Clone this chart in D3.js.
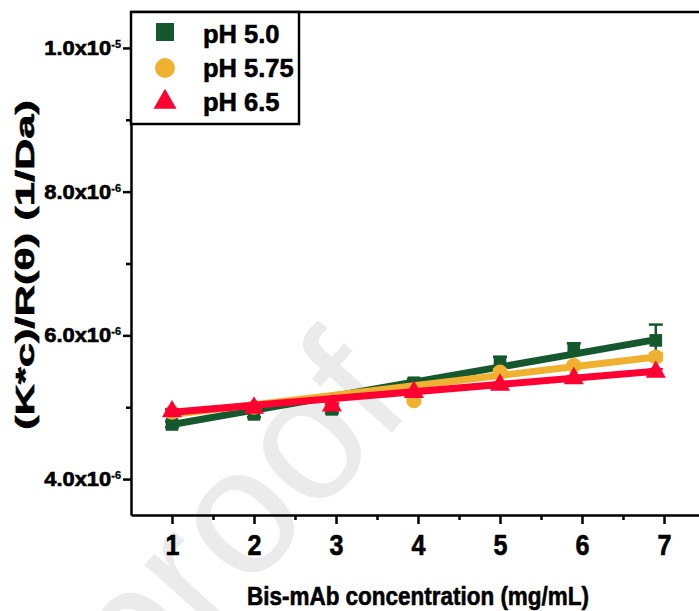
<!DOCTYPE html>
<html>
<head>
<meta charset="utf-8">
<script src="https://cdn.jsdelivr.net/npm/d3@7"></script>
<style>
body { margin: 0; background: #fff; }
text { font-family: "Liberation Sans", Arial, sans-serif; font-weight: bold; }
.lbl { stroke: #000; stroke-width: 0.6px; }
</style>
</head>
<body>
<svg id="chart" width="699" height="611"></svg>
<script>
// concentrations (mg/mL) and K*c/R(theta) values in units of 1e-6 1/Da
var conc = [1.0, 2.0, 2.95, 3.95, 5.0, 5.9, 6.9];
var ph50 = [4.76, 4.90, 4.97, 5.34, 5.63, 5.82, 5.93];
var ph50Err = [0.04, 0.04, 0.05, 0.05, 0.07, 0.07, 0.22];
var ph575 = [4.93, 5.00, 5.06, 5.09, 5.49, 5.58, 5.70];
var ph575Err = [0.03, 0.03, 0.03, 0.03, 0.04, 0.04, 0.05];
var ph65 = [4.94, 4.99, 5.02, 5.21, 5.31, 5.40, 5.49];
var ph65Err = [0.03, 0.03, 0.03, 0.03, 0.03, 0.03, 0.04];

// linear fit lines (start / end)
var fitX = [1.0, 6.9];
var fit50 = [4.76, 5.94];
var fit575 = [4.90, 5.70];
var fit65 = [4.93, 5.50];

var xTicks = [1, 2, 3, 4, 5, 6, 7];
var xMinor = [1.5, 2.5, 3.5, 4.5, 5.5, 6.5];
var yTicks = [4, 6, 8, 10];
var yMinor = [5, 7, 9];
var yTickBase = ["4.0x10", "6.0x10", "8.0x10", "1.0x10"];
var yTickExp = ["-6", "-6", "-6", "-5"];

var seriesNames = ["pH 5.0", "pH 5.75", "pH 6.5"];
var colors = ["#16582d", "#f0b030", "#ff0033"];

var svg = d3.select("#chart");

var x = d3.scaleLinear().domain([0.5, 7.5]).range([131, 705]);
var y = d3.scaleLinear().domain([3.5, 10.5]).range([515, 12]);

// watermark
svg.append("text")
	.attr("transform", "translate(140,712) rotate(-48)")
	.style("font-weight", "normal")
	.style("font-size", "180px")
	.attr("fill", "#ebebeb")
	.text("proof");

// frame top line
svg.append("line")
	.attr("x1", x(0.5)).attr("x2", 699)
	.attr("y1", y(10.5)).attr("y2", y(10.5))
	.attr("stroke", "#000").attr("stroke-width", 2.5);

// x axis
var gx = svg.append("g").attr("transform", "translate(0," + y(3.5) + ")");
gx.call(d3.axisBottom(x).tickValues(xTicks).tickSize(9).tickSizeOuter(0).tickFormat(d3.format("d")));
gx.append("g").call(d3.axisBottom(x).tickValues(xMinor).tickSize(5).tickFormat(""))
	.select(".domain").remove();
gx.selectAll(".domain").attr("stroke-width", 2.5);
gx.selectAll(".tick line").attr("stroke-width", 2.5);
gx.selectAll(".tick text")
	.attr("class", "lbl")
	.attr("y", 40).attr("dy", 0)
	.attr("fill", "#000")
	.style("font-size", "29px")
	.style("font-family", "'Liberation Sans', Arial, sans-serif")
	.attr("textLength", 14)
	.attr("lengthAdjust", "spacingAndGlyphs");

// y axis
var gy = svg.append("g").attr("transform", "translate(" + x(0.5) + ",0)");
gy.call(d3.axisLeft(y).tickValues(yTicks).tickSize(8).tickSizeOuter(0).tickFormat(""));
gy.append("g").call(d3.axisLeft(y).tickValues(yMinor).tickSize(5).tickFormat(""))
	.select(".domain").remove();
gy.selectAll(".domain").attr("stroke-width", 2.5);
gy.selectAll(".tick line").attr("stroke-width", 2.5);

yTicks.forEach(function(v, i) {
	var t = svg.append("text")
		.attr("class", "lbl")
		.attr("x", 121)
		.attr("y", y(v) + 7)
		.attr("text-anchor", "end")
		.attr("fill", "#000");
	t.append("tspan")
		.style("font-size", "19.5px")
		.attr("textLength", 67)
		.attr("lengthAdjust", "spacingAndGlyphs")
		.text(yTickBase[i]);
	t.append("tspan")
		.attr("dy", -7)
		.style("font-size", "11px")
		.style("stroke-width", "0.3px")
		.text(yTickExp[i]);
});

// axis titles
svg.append("text")
	.attr("class", "lbl")
	.attr("x", 418).attr("y", 605)
	.attr("text-anchor", "middle")
	.style("font-size", "26.5px")
	.attr("textLength", 342)
	.attr("lengthAdjust", "spacingAndGlyphs")
	.text("Bis-mAb concentration (mg/mL)");

svg.append("text")
	.attr("class", "lbl")
	.attr("transform", "translate(34,265) rotate(-90)")
	.attr("text-anchor", "middle")
	.style("font-size", "25px")
	.attr("textLength", 330)
	.attr("lengthAdjust", "spacingAndGlyphs")
	.text("(K*c)/R(θ) (1/Da)");

// data series
var allSeries = [
	{ vals: ph50, err: ph50Err, fit: fit50, shape: d3.symbolSquare, size: 160 },
	{ vals: ph575, err: ph575Err, fit: fit575, shape: d3.symbolCircle, size: 177 },
	{ vals: ph65, err: ph65Err, fit: fit65, shape: d3.symbolTriangle, size: 175 }
];

var line = d3.line().x(function(d) { return x(d[0]); }).y(function(d) { return y(d[1]); });

allSeries.forEach(function(s, si) {
	var g = svg.append("g");
	var col = colors[si];
	g.append("path")
		.attr("d", line(fitX.map(function(fx, k) { return [fx, s.fit[k]]; })))
		.attr("stroke", col).attr("stroke-width", 7).attr("fill", "none");

	var pts = conc.map(function(c, k) { return { c: c, v: s.vals[k], e: s.err[k] }; });

	var eb = g.selectAll(".eb").data(pts).enter().append("g");
	eb.append("line")
		.attr("x1", function(d) { return x(d.c); }).attr("x2", function(d) { return x(d.c); })
		.attr("y1", function(d) { return y(d.v + d.e); }).attr("y2", function(d) { return y(d.v - d.e); })
		.attr("stroke", col).attr("stroke-width", 2.5);
	eb.append("line")
		.attr("x1", function(d) { return x(d.c) - 7; }).attr("x2", function(d) { return x(d.c) + 7; })
		.attr("y1", function(d) { return y(d.v + d.e); }).attr("y2", function(d) { return y(d.v + d.e); })
		.attr("stroke", col).attr("stroke-width", 2.5);
	eb.append("line")
		.attr("x1", function(d) { return x(d.c) - 7; }).attr("x2", function(d) { return x(d.c) + 7; })
		.attr("y1", function(d) { return y(d.v - d.e); }).attr("y2", function(d) { return y(d.v - d.e); })
		.attr("stroke", col).attr("stroke-width", 2.5);

	g.selectAll(".pt").data(pts).enter().append("path")
		.attr("transform", function(d) { return "translate(" + x(d.c) + "," + y(d.v) + ")"; })
		.attr("d", d3.symbol().type(s.shape).size(s.size))
		.attr("fill", col);
});

// legend
svg.append("rect")
	.attr("x", 131).attr("y", 12).attr("width", 168).attr("height", 112)
	.attr("fill", "#fff").attr("stroke", "#000").attr("stroke-width", 2.5);

var legSizes = [324, 314, 229];
seriesNames.forEach(function(n, i) {
	var cy = [32, 68, 102][i];
	svg.append("path")
		.attr("transform", "translate(165," + cy + ")")
		.attr("d", d3.symbol().type(allSeries[i].shape).size(legSizes[i]))
		.attr("fill", colors[i]);
	svg.append("text")
		.attr("class", "lbl")
		.attr("x", 203).attr("y", [43, 77, 111][i])
		.style("font-size", "25.5px")
		.attr("fill", "#000")
		.text(n);
});
</script>
</body>
</html>
